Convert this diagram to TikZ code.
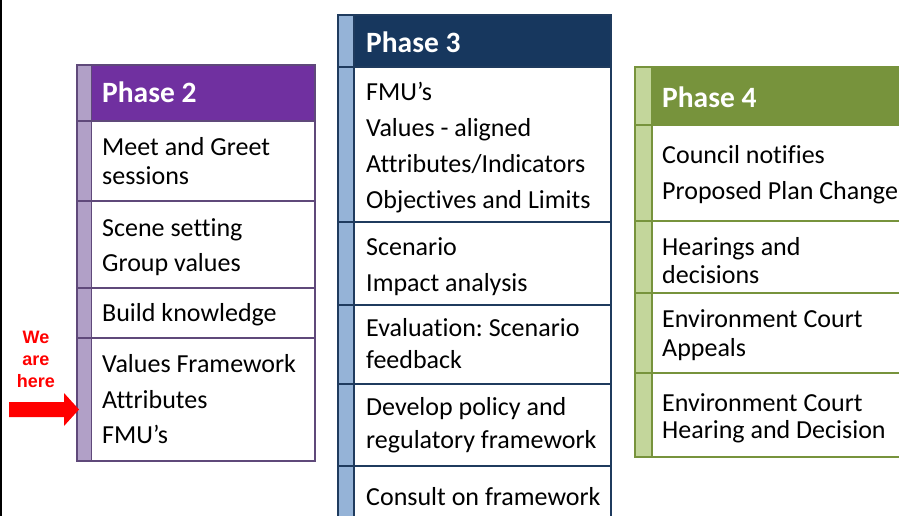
\documentclass[tikz,border=0pt]{standalone}
\usepackage{fontspec}
\setmainfont{Carlito}[Ligatures=NoCommon]
\newfontfamily\arialfont{Liberation Sans}
\frenchspacing
\definecolor{ptwohead}{HTML}{7030A0}
\definecolor{ptwostrip}{HTML}{B1A0C7}
\definecolor{ptwoline}{HTML}{5F497A}
\definecolor{pthreehead}{HTML}{17375E}
\definecolor{pthreestrip}{HTML}{95B3D7}
\definecolor{pthreeline}{HTML}{1F3B5E}
\definecolor{pfourhead}{HTML}{77933C}
\definecolor{pfourstrip}{HTML}{C3D69B}
\definecolor{pfourline}{HTML}{77933C}
\tikzset{
  cell/.style={draw, line width=1.6pt, anchor=north west, inner sep=0pt, outer sep=0pt},
  txt/.style={anchor=base west, inner sep=0pt, font=\fontsize{26}{30}\selectfont},
  head/.style={anchor=base west, inner sep=0pt, text=white, font=\fontsize{29.5}{32}\selectfont\bfseries},
  redtxt/.style={anchor=base, inner sep=0pt, text=red, font=\arialfont\fontsize{18}{20}\selectfont\bfseries},
}
\begin{document}
\begin{tikzpicture}[x=1pt,y=-1pt]
\useasboundingbox (0,0) rectangle (899,516);
\clip (0,0) rectangle (899,516);
\fill[white] (0,0) rectangle (899,516);
\draw[line width=2.5pt,black] (1,0) -- (1,516);

% Phase 2
\foreach \i/\a/\b in {0/65/121,1/121/201,2/201/288,3/288/338,4/338/461}{
  \pgfmathsetmacro\h{\b-\a}
  \ifnum\i=0 \def\bc{ptwohead}\else\def\bc{white}\fi
  \node[cell, draw=ptwoline, fill=ptwostrip, minimum width=14.5pt, minimum height=\h pt] (ptwos\i) at (77,\a) {};
  \node[cell, draw=ptwoline, fill=\bc, minimum width=223.5pt, minimum height=\h pt] (ptwob\i) at (91.5,\a) {};
}
% Phase 3
\foreach \i/\a/\b in {0/15/67,1/67/222,2/222/305,3/305/384,4/384/466,5/466/540}{
  \pgfmathsetmacro\h{\b-\a}
  \ifnum\i=0 \def\bc{pthreehead}\else\def\bc{white}\fi
  \node[cell, draw=pthreeline, fill=pthreestrip, minimum width=16pt, minimum height=\h pt] (pthrees\i) at (338,\a) {};
  \node[cell, draw=pthreeline, fill=\bc, minimum width=257pt, minimum height=\h pt] (pthreeb\i) at (354,\a) {};
}
% Phase 4
\foreach \i/\a/\b in {0/67/125,1/125/221,2/221/293,3/293/373,4/373/457}{
  \pgfmathsetmacro\h{\b-\a}
  \ifnum\i=0 \def\bc{pfourhead}\else\def\bc{white}\fi
  \node[cell, draw=pfourline, fill=pfourstrip, minimum width=17pt, minimum height=\h pt] (pfours\i) at (635,\a) {};
  \node[cell, draw=pfourline, fill=\bc, minimum width=260pt, minimum height=\h pt] (pfourb\i) at (652,\a) {};
}

% Headers
\node[head] (hdtwo) at (102,103) {Phase 2};
\node[head] (hdthree) at (366,53) {Phase 3};
\node[head] (hdfour) at (662,108) {Phase 4};

% Phase 2 texts
\node[txt] (a1) at (102,155) {Meet and Greet};
\node[txt] (a2) at (102,184) {sessions};
\node[txt] (a3) at (102,236) {Scene setting};
\node[txt] (a4) at (102,271) {Group values};
\node[txt] (a5) at (102,321) {Build knowledge};
\node[txt] (a6) at (102,372) {Values Framework};
\node[txt] (a7) at (102,408) {Attributes};
\node[txt] (a8) at (102,443) {FMU’s};

% Phase 3 texts
\node[txt] (b1) at (366,101) {FMU’s};
\node[txt] (b2) at (366,136) {Values - aligned};
\node[txt] (b3) at (366,172) {Attributes/Indicators};
\node[txt] (b4) at (366,208) {Objectives and Limits};
\node[txt] (b5) at (366,255) {Scenario};
\node[txt] (b6) at (366,291) {Impact analysis};
\node[txt] (b7) at (366,336) {Evaluation: Scenario};
\node[txt] (b8) at (366,368) {feedback};
\node[txt] (b9) at (366,415) {Develop policy and};
\node[txt] (b10) at (366,448) {regulatory framework};
\node[txt] (b11) at (366,505) {Consult on framework};

% Phase 4 texts
\node[txt] (c1) at (662,164) {Council notifies};
\node[txt] (c2) at (662,199) {Proposed Plan Change};
\node[txt] (c3) at (662,255) {Hearings and};
\node[txt] (c4) at (662,283) {decisions};
\node[txt] (c5) at (662,327) {Environment Court};
\node[txt] (c6) at (662,356) {Appeals};
\node[txt] (c7) at (662,411) {Environment Court};
\node[txt] (c8) at (662,438) {Hearing and Decision};

% We are here
\node[redtxt] (r1) at (36,343) {We};
\node[redtxt] (r2) at (36,365) {are};
\node[redtxt] (r3) at (36,387) {here};
\coordinate (arrtip) at (79,409.5);
\fill[red] (9,402) -- (64,402) -- (64,393) -- (arrtip) -- (64,426) -- (64,417) -- (9,417) -- cycle;
\end{tikzpicture}
\end{document}
